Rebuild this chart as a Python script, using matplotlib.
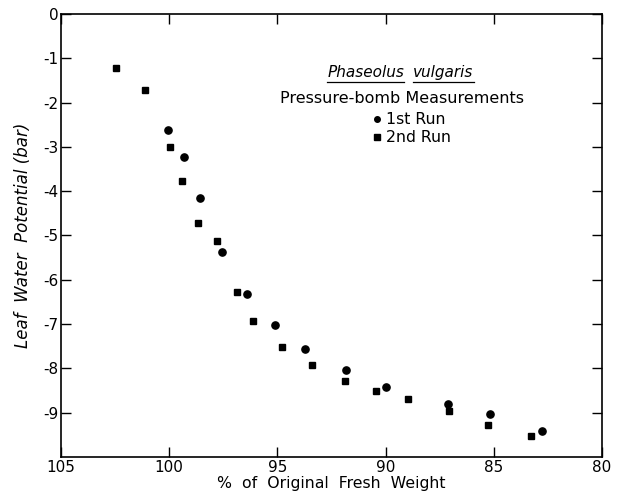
import matplotlib
matplotlib.use("Agg")
import matplotlib.pyplot as plt
from matplotlib.lines import Line2D

plt.rcParams['font.family'] = ['DejaVu Sans']
plt.rcParams['axes.unicode_minus'] = False

# Data
run1_weight = [100.04, 99.30, 98.59, 97.57, 96.40, 95.11, 93.74, 91.83, 89.98, 87.10, 85.18, 82.77]
run1_potential = [-2.62, -3.23, -4.15, -5.37, -6.31, -7.01, -7.56, -8.03, -8.43, -8.81, -9.02, -9.42]
run2_weight = [102.47, 101.13, 99.98, 99.42, 98.65, 97.81, 96.87, 96.14, 94.77, 93.39, 91.88, 90.43, 88.96, 87.09, 85.28, 83.30]
run2_potential = [-1.22, -1.72, -3.01, -3.76, -4.72, -5.13, -6.28, -6.93, -7.52, -7.92, -8.28, -8.52, -8.70, -8.97, -9.27, -9.53]

x_ticks = [105, 100, 95, 90, 85, 80]
y_ticks = [0, -1, -2, -3, -4, -5, -6, -7, -8, -9]
y_ticklabels = ["0", "-1", "-2", "-3", "-4", "-5", "-6", "-7", "-8", "-9"]

title_words = ["Phaseolus", "vulgaris"]
subtitle = "Pressure-bomb Measurements"
legend_labels = ["1st Run", "2nd Run"]

W, H = 6.2, 4.99
fig = plt.figure(figsize=(W, H), dpi=100)
ax = fig.add_axes([0.0984, 0.0842, 0.8726, 0.8878])

ax.plot(run1_weight, run1_potential, linestyle='none', marker='o', ms=5.2,
        color='black', mec='black')
ax.plot(run2_weight, run2_potential, linestyle='none', marker='s', ms=4.6,
        color='black', mec='black')

ax.set_xlim(105, 80)
ax.set_ylim(-10, 0)
ax.set_xticks(x_ticks)
ax.set_yticks(y_ticks)
ax.set_yticklabels(y_ticklabels)
ax.tick_params(axis='both', which='major', direction='in', length=7.5, width=1.0,
               top=True, right=True, labelsize=11, pad=2)
for sp in ax.spines.values():
    sp.set_linewidth(1.2)

ax.set_xlabel("%  of  Original  Fresh  Weight", fontsize=11.3, labelpad=1)
ax.set_ylabel("Leaf  Water  Potential (bar)", fontsize=12, style='italic', labelpad=8)

# Annotation block (legend)
fig.canvas.draw()
renderer = fig.canvas.get_renderer()
base_y = 0.857
t1 = ax.text(0.492, base_y, title_words[0], transform=ax.transAxes, fontsize=11,
             style='italic', ha='left', va='baseline')
fig.canvas.draw()
bb1 = t1.get_window_extent(renderer)
inv = ax.transAxes.inverted()
x_end = inv.transform((bb1.x1, bb1.y0))[0]
t2 = ax.text(x_end + 0.017, base_y, title_words[1], transform=ax.transAxes, fontsize=11,
             style='italic', ha='left', va='baseline')
fig.canvas.draw()
for t in (t1, t2):
    bb = t.get_window_extent(renderer)
    y0 = bb.y0 - 2
    fig.add_artist(Line2D([bb.x0 / fig.dpi / W, bb.x1 / fig.dpi / W],
                          [y0 / fig.dpi / H, y0 / fig.dpi / H],
                          transform=fig.transFigure, color='black', lw=0.9))

ax.text(0.631, 0.799, subtitle, transform=ax.transAxes, fontsize=11.5,
        ha='center', va='baseline')

leg_marker_y = [0.763, 0.722]
leg_text_y = [0.752, 0.711]
leg_markers = ['o', 's']
leg_ms = [4.0, 3.8]
for my, ty, mk, ms, lab in zip(leg_marker_y, leg_text_y, leg_markers, leg_ms, legend_labels):
    ax.plot([0.584], [my], transform=ax.transAxes, marker=mk, ms=ms,
            color='black', linestyle='none', clip_on=False)
    ax.text(0.601, ty, lab, transform=ax.transAxes, fontsize=11.3,
            ha='left', va='baseline')

fig.savefig("out.png", dpi=100)
